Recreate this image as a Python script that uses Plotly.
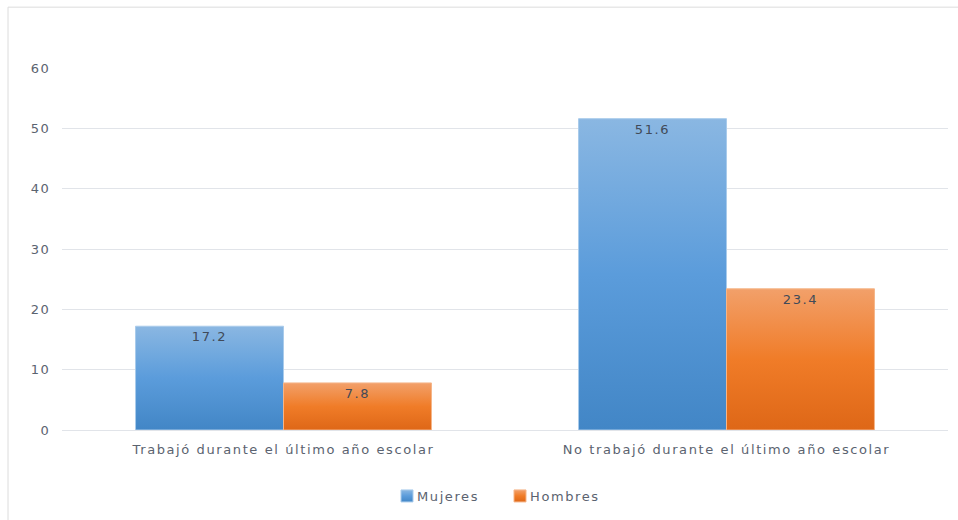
import plotly.graph_objects as go

# Categories and values (%)
categories = ["Trabajó durante el último año escolar",
              "No trabajó durante el último año escolar"]
mujeres = [17.2, 51.6]
hombres = [7.8, 23.4]
y_ticks = [0, 10, 20, 30, 40, 50, 60]

W, H = 958, 520
L, R, T, B = 62, 10, 68, 89
plot_h = H - T - B
plot_w = W - L - R

def px_y(p):
    return (H - B - p) / plot_h

def px_x(p):
    return (p - L) / plot_w

text_color = "#5b6370"
font_family = "DejaVu Sans, Verdana, sans-serif"

fig = go.Figure()
fig.add_trace(go.Bar(
    name="Mujeres", x=categories, y=mujeres,
    marker=dict(color="#5b9bd8", line=dict(color="#a9cbeb", width=1)),
    text=[f"{v:.1f}" for v in mujeres], textposition="inside",
    insidetextanchor="end", textfont=dict(color="#414a58", size=13),
    hoverinfo="skip",
))
fig.add_trace(go.Bar(
    name="Hombres", x=categories, y=hombres,
    marker=dict(color="#ee7e30", line=dict(color="#f5b588", width=1)),
    text=[f"{v:.1f}" for v in hombres], textposition="inside",
    insidetextanchor="end", textfont=dict(color="#414a58", size=13),
    hoverinfo="skip",
))

fig.update_layout(
    width=W, height=H,
    margin=dict(l=L, r=R, t=T, b=B),
    paper_bgcolor="white", plot_bgcolor="white",
    barmode="group", bargap=0.332, bargroupgap=0,
    font=dict(family=font_family, size=13, color=text_color),
    showlegend=True,
    legend=dict(orientation="h", x=0.5 - 5 / plot_w, xanchor="center",
                y=px_y(496), yanchor="middle",
                font=dict(size=13, color=text_color),
                itemwidth=30, entrywidth=68, entrywidthmode="pixels",
                traceorder="normal"),
    xaxis=dict(showgrid=False, showline=False, zeroline=False,
               ticks="outside", ticklen=7, tickcolor="rgba(0,0,0,0)",
               tickfont=dict(size=13, color=text_color)),
    yaxis=dict(range=[0, 60], tickvals=y_ticks, showgrid=True,
               gridcolor="#e1e4e9", gridwidth=1, zeroline=True,
               zerolinecolor="#e1e4e9", zerolinewidth=1, showline=False,
               ticks="outside", ticklen=8, tickcolor="rgba(0,0,0,0)",
               tickfont=dict(size=13, color=text_color)),
    shapes=[dict(type="rect", xref="paper", yref="paper",
                 x0=px_x(8), x1=px_x(W + 20), y0=px_y(H + 20), y1=px_y(7),
                 line=dict(color="#dcdcdc", width=1), fillcolor="rgba(0,0,0,0)",
                 layer="below")],
    annotations=[dict(text="Trabajó durante el último año escolar según sexo (porcentaje)",
                      xref="paper", yref="paper", x=px_x(40), y=px_y(2),
                      xanchor="left", yanchor="bottom", showarrow=False,
                      font=dict(family="Liberation Serif, Times New Roman, serif",
                                size=18, color="#111111"))],
)

# Vertical gradient fills for the bars, wider letter spacing for the labels,
# and legend text set closer to its colour swatch
post_js = """
var gd = document.getElementById('{plot_id}');
var svg = gd.querySelector('.main-svg');
var defs = svg.querySelector('defs');
var NS = 'http://www.w3.org/2000/svg';
var grads = [
  ['gradMujeres', [['0%', '#8ab7e2'], ['50%', '#5b9cdb'], ['100%', '#4286c6']]],
  ['gradHombres', [['0%', '#f2a06a'], ['50%', '#f07c28'], ['100%', '#de6717']]]
];
grads.forEach(function (g) {
  var lg = document.createElementNS(NS, 'linearGradient');
  lg.setAttribute('id', g[0]);
  lg.setAttribute('x1', '0'); lg.setAttribute('y1', '0');
  lg.setAttribute('x2', '0'); lg.setAttribute('y2', '1');
  g[1].forEach(function (s) {
    var st = document.createElementNS(NS, 'stop');
    st.setAttribute('offset', s[0]);
    st.setAttribute('stop-color', s[1]);
    lg.appendChild(st);
  });
  defs.appendChild(lg);
});
gd.querySelectorAll('.barlayer .trace').forEach(function (tr, i) {
  tr.querySelectorAll('.point path').forEach(function (p) {
    p.style.fill = 'url(#' + grads[i][0] + ')';
  });
});
gd.querySelectorAll('.legend .traces').forEach(function (tr, i) {
  tr.querySelectorAll('.legendpoints path').forEach(function (p) {
    p.style.fill = 'url(#' + grads[i][0] + ')';
  });
  var lt = tr.querySelector('.legendtext');
  if (lt) {
    var x0 = parseFloat(lt.getAttribute('x')) || 40;
    lt.setAttribute('x', x0 - 10);
  }
});
gd.querySelectorAll('.xtick text, .ytick text, .legendtext, .bartext').forEach(function (t) {
  t.style.letterSpacing = '1.6px';
});
"""

fig.write_html("out.html", post_script=post_js)
